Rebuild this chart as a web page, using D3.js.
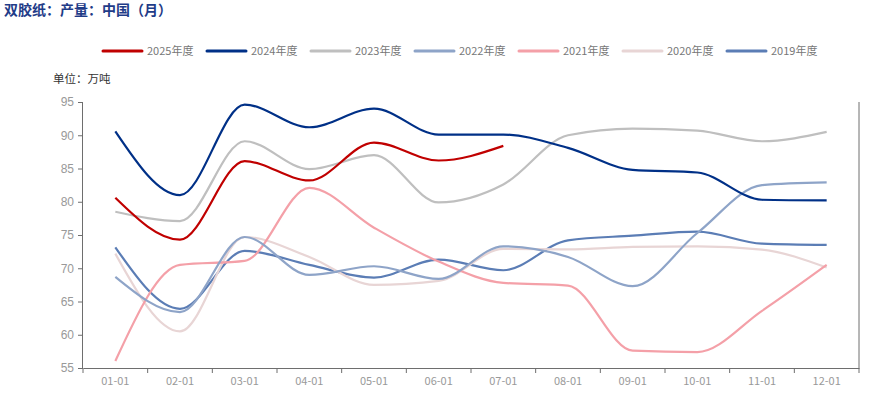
<!DOCTYPE html>
<html><head><meta charset="utf-8">
<script src="https://cdn.jsdelivr.net/npm/d3@7"></script>
<style>body{margin:0;background:#fff}svg{display:block}</style>
</head><body>
<svg id="c" width="871" height="395"></svg>
<script>
const months = ["01-01","02-01","03-01","04-01","05-01","06-01","07-01","08-01","09-01","10-01","11-01","12-01"];
const yTicks = [55,60,65,70,75,80,85,90,95];
const seriesNames = ["2025年度","2024年度","2023年度","2022年度","2021年度","2020年度","2019年度"];
const seriesColors = ["#C00000","#003087","#BFBFBF","#8EA4C8","#F4A0A8","#E8D5D5","#5B7DB5"];
const v2025 = [80.6,74.3,86.1,83.2,88.9,86.2,88.4];
const v2024 = [90.6,81.0,94.6,91.2,94.0,90.1,90.1,88.1,84.8,84.4,80.3,80.2];
const v2023 = [78.5,77.1,89.1,84.9,87.0,79.9,82.6,90.0,91.0,90.7,89.1,90.5];
const v2022 = [68.7,63.4,74.7,69.0,70.3,68.4,73.3,71.7,67.3,75.3,82.5,82.9];
const v2021 = [56.05,70.5,71.1,82.1,76.1,71.0,67.8,67.4,57.6,57.4,63.6,70.5];
const v2020 = [72.2,60.5,74.7,71.7,67.5,68.1,72.9,72.85,73.2,73.3,72.8,70.1];
const v2019 = [73.15,63.9,72.6,70.5,68.6,71.3,69.7,74.2,74.9,75.5,73.7,73.5];
const seriesValues = [v2025,v2024,v2023,v2022,v2021,v2020,v2019];

(function(){
const svg = d3.select("#c");
const pL = 83, pR = 859, pT = 102, pB = 368;
const x = d3.scaleBand().domain(months).range([pL, pR]);
const y = d3.scaleLinear().domain([55,95]).range([pB, pT]);
const axisColor = "#6e6e6e", labelColor = "#999999";
const cjk = "'Noto Sans CJK SC','Noto Sans',sans-serif";

svg.append("text").attr("x",4).attr("y",15).text("双胶纸：产量：中国（月）")
  .attr("fill","#1F3C88").attr("font-weight","bold").attr("font-size",14).attr("font-family",cjk);
svg.append("text").attr("x",53).attr("y",83).text("单位：万吨")
  .attr("fill","#333").attr("font-size",11.5).attr("font-family",cjk);

const lg = svg.append("g");
seriesNames.forEach((n,i)=>{
  const gx = 103 + i*104;
  lg.append("line").attr("x1",gx).attr("x2",gx+39).attr("y1",51).attr("y2",51)
    .attr("stroke",seriesColors[i]).attr("stroke-width",3).attr("stroke-linecap","round");
  lg.append("text").attr("x",gx+44).attr("y",55).text(n)
    .attr("fill","#777").attr("font-size",11).attr("font-family",cjk);
});

const ya = svg.append("g").attr("transform",`translate(${pL},0)`)
  .call(d3.axisLeft(y).tickValues(yTicks).tickSize(5).tickPadding(4));
ya.select(".domain").attr("stroke",axisColor).attr("d",`M-0.5,${pT}V${pB}`);
ya.selectAll(".tick line").attr("stroke",axisColor);
ya.selectAll(".tick text").attr("fill",labelColor).attr("font-size",12).attr("font-family","'Liberation Sans',Arial,sans-serif");

svg.append("line").attr("x1",pR).attr("x2",pR).attr("y1",pT).attr("y2",pB).attr("stroke",axisColor);

const xa = svg.append("g").attr("transform",`translate(0,${pB})`)
  .call(d3.axisBottom(x).tickSize(0).tickPadding(9));
xa.select(".domain").attr("stroke",axisColor);
xa.selectAll(".tick text").attr("fill",labelColor).attr("font-size",11).attr("font-family",cjk);
const bounds = months.map(m=>x(m)).concat([pR]);
svg.append("g").selectAll("line").data(bounds).join("line")
  .attr("x1",d=>d).attr("x2",d=>d).attr("y1",pB).attr("y2",pB+5).attr("stroke",axisColor);

const line = d3.line().x((d,i)=>x(months[i])+x.bandwidth()/2).y(d=>y(d)).curve(d3.curveMonotoneX);
[6,5,4,3,2,1,0].forEach(i=>{
  svg.append("path").datum(seriesValues[i]).attr("d",line)
    .attr("fill","none").attr("stroke",seriesColors[i]).attr("stroke-width",2.2);
});
})();
</script>
</body></html>
